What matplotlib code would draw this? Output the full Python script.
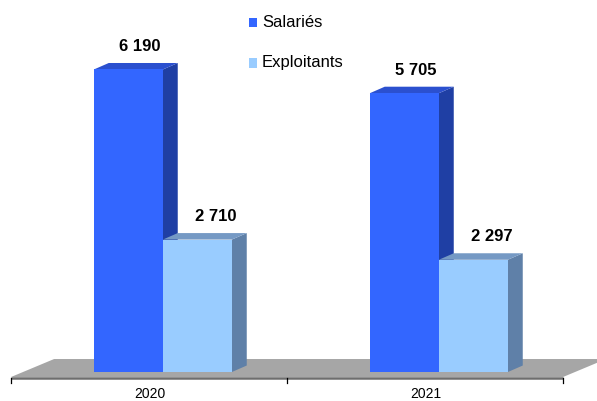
import numpy as np
import matplotlib.pyplot as plt
from matplotlib.patches import Polygon, Rectangle

plt.rcParams['font.family'] = ['Liberation Sans', 'DejaVu Sans']

years = ['2020', '2021']
salaries = [6190, 5705]
exploitants = [2710, 2297]
series_names = ['Salariés', 'Exploitants']

front_cols = ['#3366FF', '#99CCFF']
top_cols = ['#2B50CF', '#7599C4']
side_cols = ['#1F3FA4', '#5F80A8']

def fmt(v):  # French thousands separator
    return '{:,}'.format(v).replace(',', ' ')

fig = plt.figure(figsize=(5.97, 4.01), dpi=100)
ax = fig.add_axes([0, 0, 1, 1])
ax.set_xlim(-0.540, 1.623)
ax.set_ylim(-593, 7612)
ax.axis('off')

# depth of the fake 3D extrusion, in data units
dx, dy = 0.054, 133
width = 0.25

# grey floor
fdx, fdy = 0.156, 368
floor = Polygon([(-0.5, -102), (1.5, -102), (1.5 + fdx, -102 + fdy), (-0.5 + fdx, -102 + fdy)],
                closed=True, facecolor='#A6A6A6', edgecolor='none', zorder=1)
ax.add_patch(floor)

# category axis with ticks between groups
ax.plot([-0.5, 1.5], [-123, -123], color='#6E6E6E', lw=1.8, zorder=2, solid_capstyle='butt')
for t in [-0.5, 0.5, 1.5]:
    ax.plot([t, t], [-123, -215], color='#000000', lw=0.9, zorder=2)
x = np.arange(len(years))
for xi, yr in zip(x, years):
    ax.text(xi + 0.003, -450, yr, ha='center', va='center', fontsize=10)

def bar3d(left, h, k):
    right = left + width
    side = Polygon([(right, 0), (right + dx, dy), (right + dx, h + dy), (right, h)],
                   closed=True, facecolor=side_cols[k], edgecolor='none', zorder=3)
    top = Polygon([(left, h), (right, h), (right + dx, h + dy), (left + dx, h + dy)],
                  closed=True, facecolor=top_cols[k], edgecolor='none', zorder=3)
    ax.add_patch(side)
    ax.add_patch(top)

for xi in x:
    for k, (vals, off, lab_dx) in enumerate([(salaries, -0.2, 0.042), (exploitants, 0.05, 0.068)]):
        h = vals[xi]
        left = xi + off
        bar3d(left, h, k)
        ax.bar(left, h, width=width, align='edge', color=front_cols[k],
               edgecolor='none', zorder=3)
        ax.text(left + width / 2 + lab_dx, h + 470, fmt(h), ha='center', va='center',
                fontsize=12, fontweight='bold')

# legend
for k, (name, yy) in enumerate(zip(series_names, [22.5, 63])):
    fy = 1 - yy / 401
    fig.patches.append(Rectangle((249 / 597, fy - 4.5 / 401), 8.5 / 597, 9 / 401,
                                 transform=fig.transFigure, facecolor=front_cols[k],
                                 edgecolor='none'))
    fig.text(262 / 597, fy, name, ha='left', va='center', fontsize=12)

fig.savefig('out.png', dpi=100)
